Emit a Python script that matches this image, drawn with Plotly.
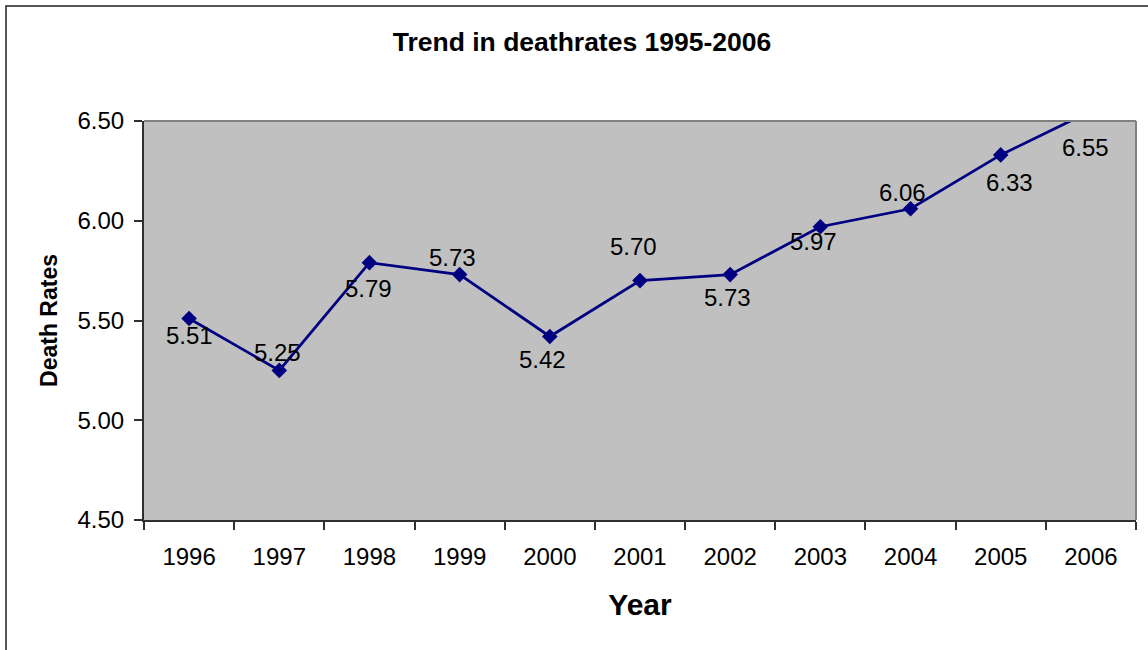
import plotly.graph_objects as go

years = ["1996", "1997", "1998", "1999", "2000", "2001", "2002", "2003", "2004", "2005", "2006"]
death_rates = [5.51, 5.25, 5.79, 5.73, 5.42, 5.70, 5.73, 5.97, 6.06, 6.33, 6.55]
y_min, y_max, y_step = 4.5, 6.5, 0.5

# label offsets in pixels (dx right, dy down) relative to each point
label_dx = [0, -2, -1, -7, -7, -7, -3, -7, -8, 9, -5]
label_dy = [18, -17, 27, -16, 24, -33, 24, 16, -15, 29, 37]

NAVY = "#000080"
FONT = "Liberation Sans, Arial, sans-serif"

fig = go.Figure()
fig.add_trace(go.Scatter(
    x=years, y=death_rates, mode="lines+markers",
    line=dict(color=NAVY, width=2.8),
    marker=dict(symbol="diamond", size=12, color=NAVY),
    showlegend=False, hoverinfo="skip",
))

annotations = []
for i, (v, dx, dy) in enumerate(zip(death_rates, label_dx, label_dy)):
    annotations.append(dict(
        x=i, xref="x",
        y=(v - y_min) / (y_max - y_min), yref="paper",
        xanchor="center", yanchor="middle",
        text=f"{v:.2f}", showarrow=False,
        xshift=dx, yshift=-dy + 1,
        font=dict(family=FONT, size=24, color="black"),
    ))

W, H = 1148, 650
L, R, T, B = 144, 12, 121, 130
pw, ph = W - L - R, H - T - B


def px(x):
    return (x - L) / pw


def py(y):
    return (H - B - y) / ph


shapes = [
    # outer chart frame
    dict(type="rect", xref="paper", yref="paper",
         x0=px(6), x1=px(1160), y0=py(6), y1=py(670),
         line=dict(color="#202020", width=1.5), fillcolor="rgba(0,0,0,0)", layer="below"),
    # plot area top and right border (gray)
    dict(type="line", xref="paper", yref="paper", x0=0, x1=1, y0=1, y1=1,
         line=dict(color="#808080", width=2)),
    dict(type="line", xref="paper", yref="paper", x0=1, x1=1, y0=0, y1=1,
         line=dict(color="#808080", width=2)),
]

fig.update_layout(
    width=W, height=H,
    margin=dict(l=L, r=R, t=T, b=B),
    paper_bgcolor="white", plot_bgcolor="#C0C0C0",
    font=dict(family=FONT, color="black"),
    title=dict(text="<b>Trend in deathrates 1995-2006</b>", x=582 / W, xanchor="center",
               y=1 - 42 / H, yanchor="middle",
               font=dict(family=FONT, size=26.5, color="black")),
    xaxis=dict(
        type="category", range=[-0.5, 10.5], tickson="boundaries",
        ticks="outside", ticklen=8, tickwidth=1.5, tickcolor="#303030",
        showline=True, linecolor="#303030", linewidth=2, showgrid=False, zeroline=False,
        tickfont=dict(family=FONT, size=24, color="black"), ticklabelstandoff=14,
        title=dict(text="<b>Year</b>", font=dict(family=FONT, size=30, color="black"), standoff=25),
    ),
    yaxis=dict(
        range=[y_min, y_max], dtick=y_step, tickformat=".2f",
        ticks="outside", ticklen=8, tickwidth=1.5, tickcolor="#303030",
        showline=True, linecolor="#303030", linewidth=2, showgrid=False, zeroline=False,
        tickfont=dict(family=FONT, size=24, color="black"), ticklabelstandoff=5,
        title=dict(text="<b>Death Rates</b>", font=dict(family=FONT, size=23, color="black"), standoff=13),
    ),
    annotations=annotations,
    shapes=shapes,
)

fig.write_html("out.html", config={"displayModeBar": False},
               post_script="document.body.style.margin='0px';")
